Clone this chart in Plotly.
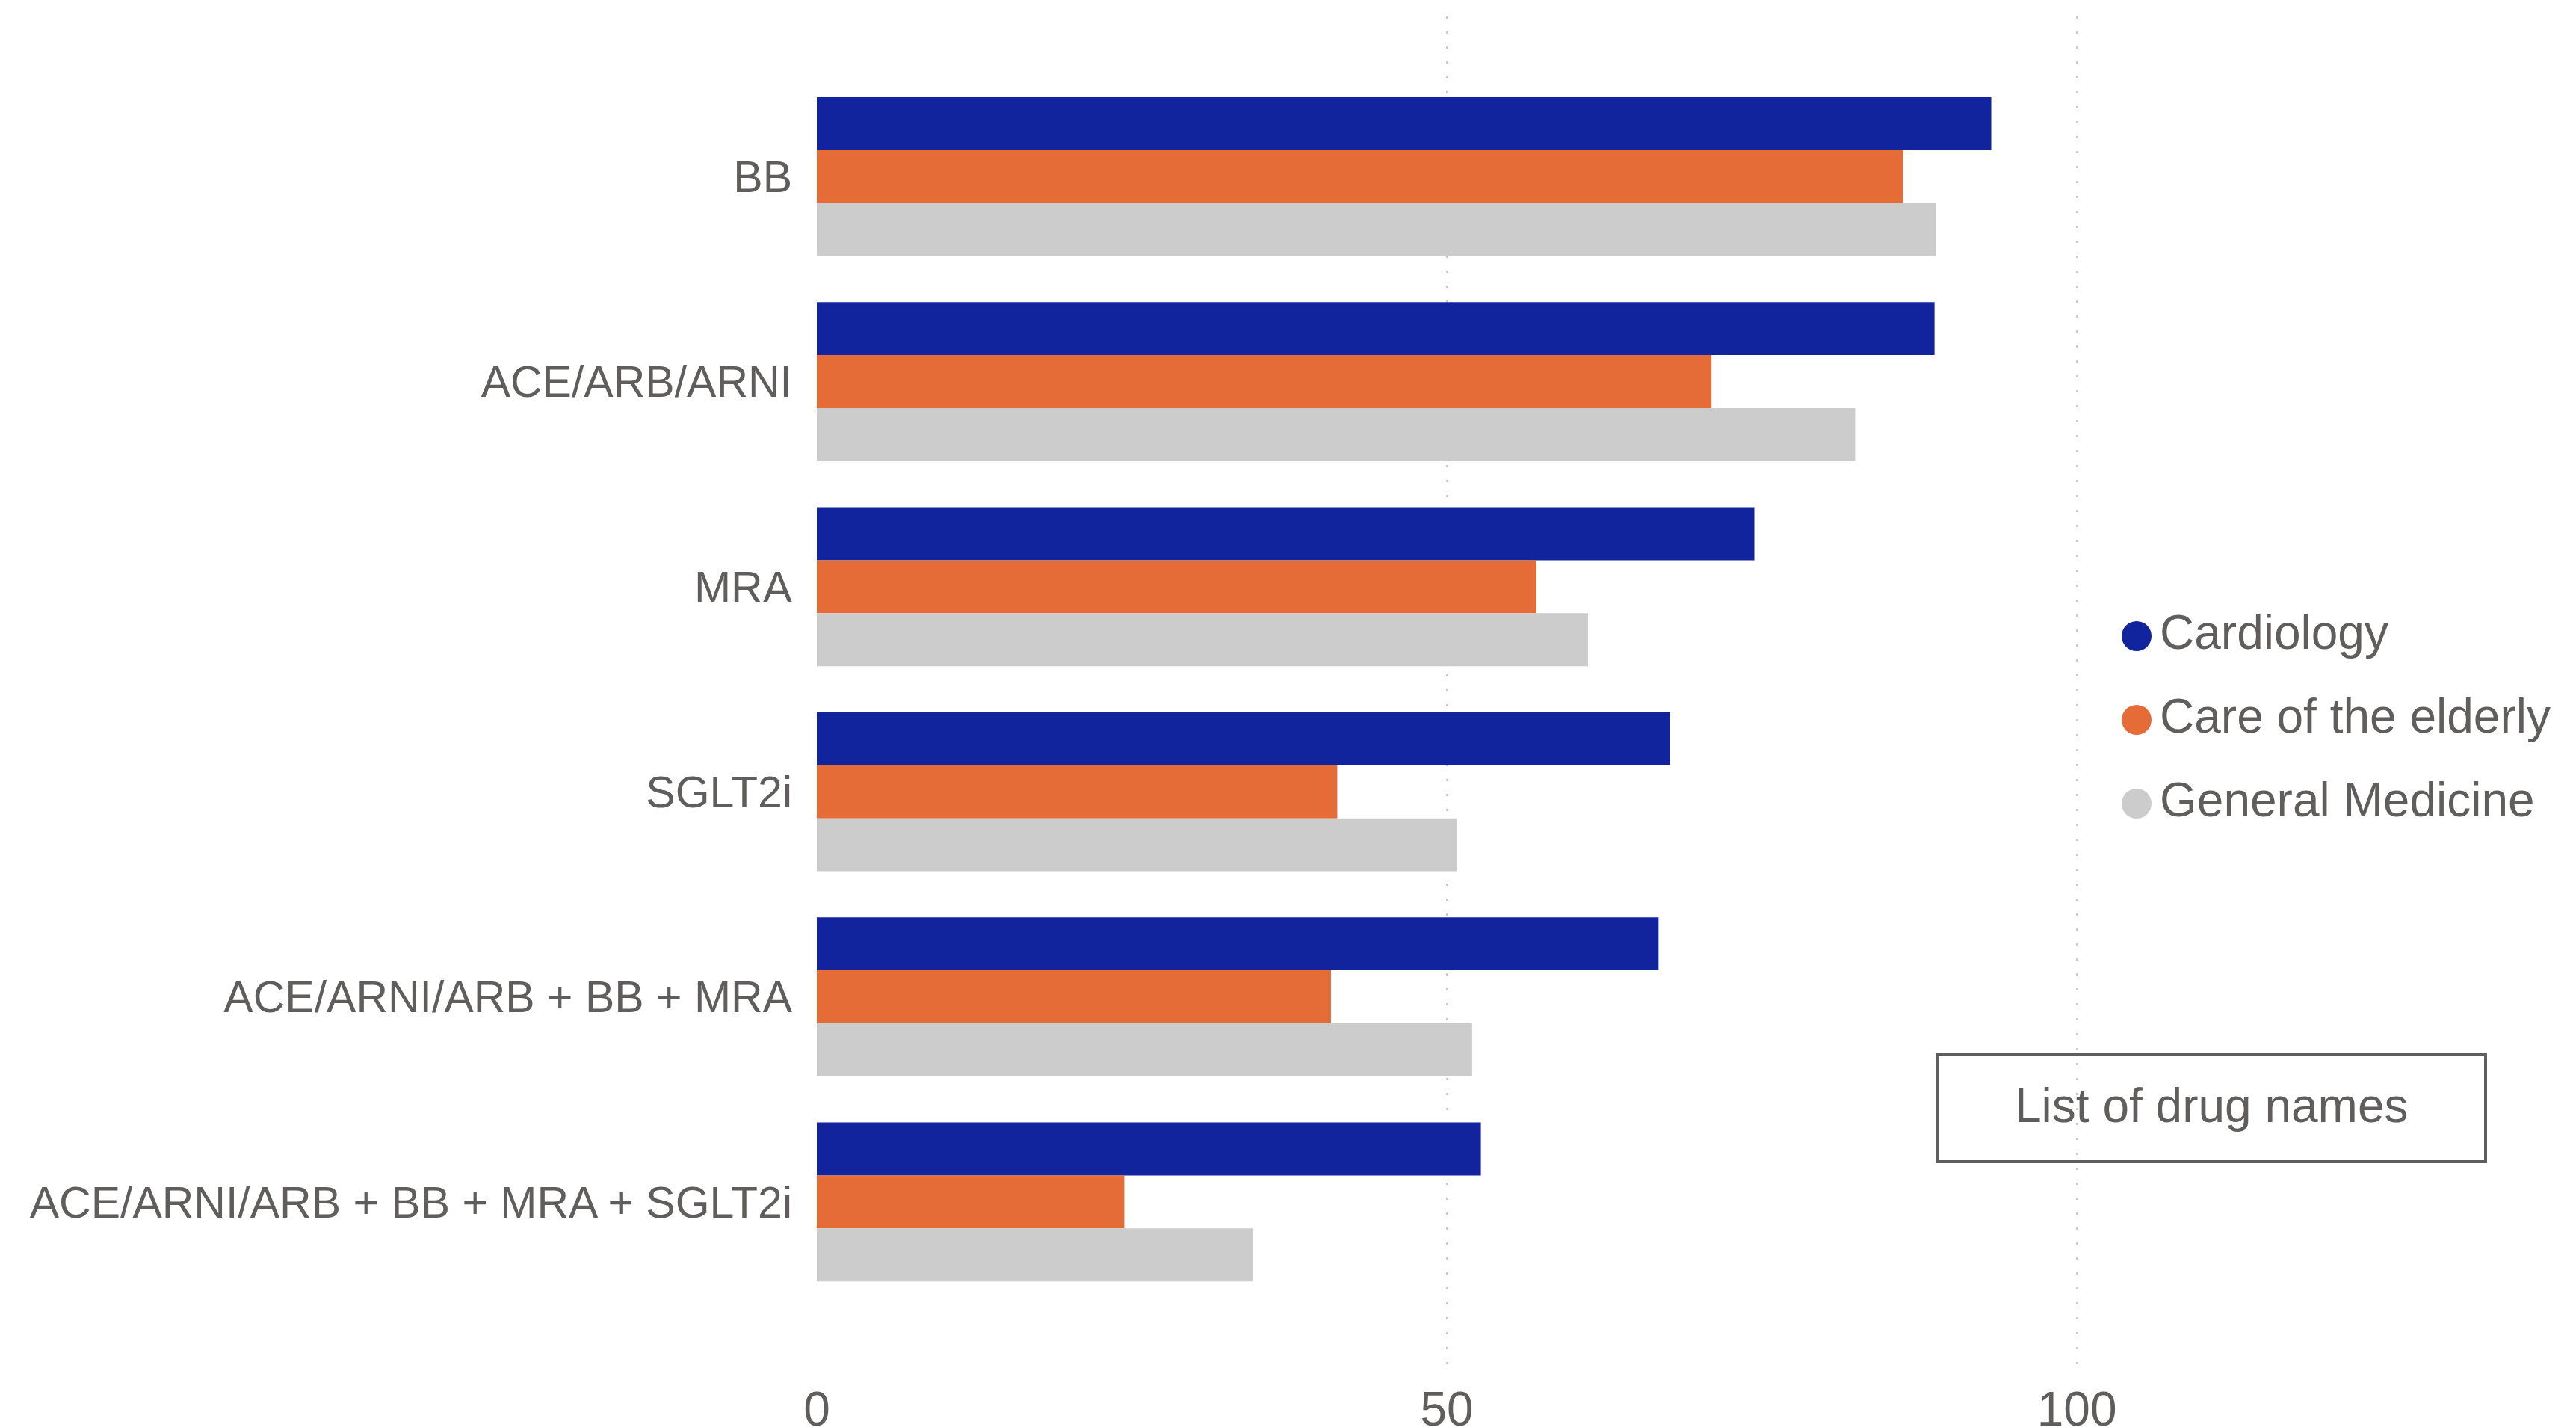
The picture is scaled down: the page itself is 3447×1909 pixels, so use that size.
import plotly.graph_objects as go

# Guideline-directed therapy prescribing rates (%) by specialty
drugs = [
    "BB",
    "ACE/ARB/ARNI",
    "MRA",
    "SGLT2i",
    "ACE/ARNI/ARB + BB + MRA",
    "ACE/ARNI/ARB + BB + MRA + SGLT2i",
]
specialties = ["Cardiology", "Care of the elderly", "General Medicine"]
cardiology = [93.2, 88.7, 74.4, 67.7, 66.8, 52.7]
care_of_elderly = [86.2, 71.0, 57.1, 41.3, 40.8, 24.4]
general_medicine = [88.8, 82.4, 61.2, 50.8, 52.0, 34.6]
x_ticks = [0, 50, 100]
box_label = "List of drug names"

colors = ["#12239E", "#E66C37", "#CCCCCC"]
text_color = "#605E5C"
font_family = "Liberation Sans, Arial, sans-serif"

# Canvas and plot-area geometry (pixels)
W, H = 3447, 1909
L, R, T, B = 1093, 162, 22, 74
plot_w, plot_h = W - L - R, H - T - B


def px_x(px):
    return (px - L) / plot_w


def px_y(py):
    return (H - B - py) / plot_h


fig = go.Figure()
for name, vals, col in zip(specialties, [cardiology, care_of_elderly, general_medicine], colors):
    fig.add_trace(go.Bar(
        y=drugs, x=vals, name=name, orientation="h",
        marker=dict(color=col, line=dict(width=0)),
        showlegend=False,
    ))

shapes = []
annotations = []

# Legend: round swatches with labels
legend_rows = [851, 963, 1075]
for name, col, cy in zip(specialties, colors, legend_rows):
    shapes.append(dict(
        type="circle", xref="paper", yref="paper",
        xsizemode="pixel", ysizemode="pixel",
        xanchor=px_x(2859), yanchor=px_y(cy),
        x0=-20, x1=20, y0=-20, y1=20,
        fillcolor=col, line=dict(width=0),
    ))
    annotations.append(dict(
        text=name, xref="paper", yref="paper",
        x=px_x(2888), y=px_y(cy - 5), xanchor="left", yanchor="middle",
        showarrow=False, font=dict(size=64, color=text_color, family=font_family),
    ))

# Framed caption box
shapes.append(dict(
    type="rect", xref="paper", yref="paper",
    x0=px_x(2592), x1=px_x(3326), y0=px_y(1554), y1=px_y(1411),
    line=dict(color=text_color, width=4), fillcolor="rgba(0,0,0,0)",
))
annotations.append(dict(
    text=box_label, xref="paper", yref="paper",
    x=px_x(2959), y=px_y(1479), xanchor="center", yanchor="middle",
    showarrow=False, font=dict(size=64, color=text_color, family=font_family),
))

fig.update_layout(
    width=W, height=H, autosize=False,
    margin=dict(l=L, r=R, t=T, b=B, pad=0, autoexpand=False),
    paper_bgcolor="white", plot_bgcolor="white",
    barmode="group", bargap=0.2246, bargroupgap=0,
    font=dict(family=font_family, color=text_color),
    shapes=shapes, annotations=annotations,
    showlegend=False,
)
fig.update_xaxes(
    range=[0, 130], tickvals=x_ticks, ticktext=[str(v) for v in x_ticks],
    showgrid=True, gridcolor="#C8C8C8", gridwidth=3, griddash="3px,17px",
    zeroline=False, showline=False, ticks="", automargin=False,
    ticklabelstandoff=7,
    tickfont=dict(size=64, color=text_color, family=font_family),
)
fig.update_yaxes(
    type="category", categoryorder="array", categoryarray=drugs,
    range=[5.828, -0.781],
    showgrid=False, zeroline=False, showline=False, ticks="", automargin=False,
    ticklabelstandoff=32,
    tickfont=dict(size=59, color=text_color, family=font_family),
)

fig.write_html("out.html", config=dict(displayModeBar=False))
